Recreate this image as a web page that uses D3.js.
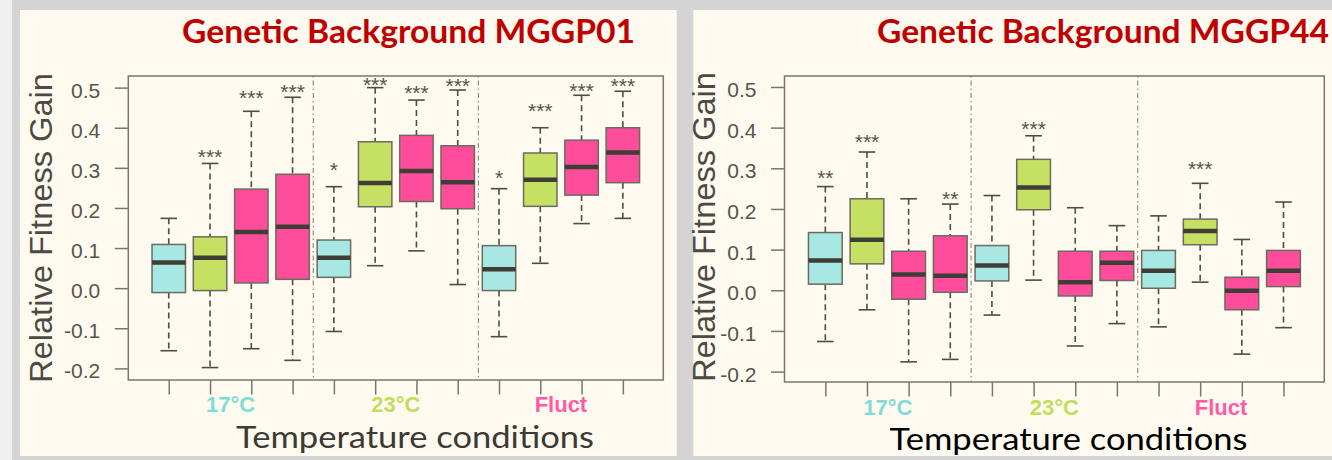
<!DOCTYPE html>
<html>
<head>
<meta charset="utf-8">
<script src="https://cdn.jsdelivr.net/npm/d3@7"></script>
<style>
  body { margin: 0; background: #d4d4d4; }
  svg { display: block; }
</style>
</head>
<body>
<svg id="canvas" width="1332" height="460"></svg>
<script>
// gruppi di temperatura e tipo di ogni box (colore = condizione di evoluzione)
const gruppi = ["17°C", "23°C", "Fluct"];
const tipiBox = ["17°C", "23°C", "Fluct", "Fluct",
                 "17°C", "23°C", "Fluct", "Fluct",
                 "17°C", "23°C", "Fluct", "Fluct"];
const tickY = [-0.2, -0.1, 0.0, 0.1, 0.2, 0.3, 0.4, 0.5];

// MGGP01
const m01Min = [-0.156, -0.198, -0.151, -0.180, -0.108, 0.056, 0.093, 0.009, -0.121, 0.062, 0.161, 0.174];
const m01Q1  = [-0.011, -0.006, 0.013, 0.022, 0.027, 0.203, 0.216, 0.198, -0.006, 0.204, 0.232, 0.263];
const m01Med = [0.064, 0.076, 0.140, 0.153, 0.076, 0.262, 0.292, 0.264, 0.047, 0.270, 0.302, 0.338];
const m01Q3  = [0.109, 0.128, 0.247, 0.284, 0.120, 0.365, 0.381, 0.355, 0.106, 0.337, 0.369, 0.400];
const m01Max = [0.174, 0.311, 0.441, 0.476, 0.253, 0.500, 0.469, 0.494, 0.248, 0.400, 0.481, 0.491];
const m01Sig = ["", "***", "***", "***", "*", "***", "***", "***", "*", "***", "***", "***"];
const m01SigY = [null, 0.340, 0.486, 0.502, 0.307, 0.520, 0.500, 0.517, 0.288, 0.454, 0.505, 0.516];

// MGGP44
const m44Min = [-0.126, -0.048, -0.176, -0.170, -0.061, 0.025, -0.137, -0.082, -0.090, 0.020, -0.157, -0.092];
const m44Q1  = [0.015, 0.065, -0.022, -0.005, 0.023, 0.198, -0.014, 0.024, 0.005, 0.112, -0.048, 0.009];
const m44Med = [0.073, 0.124, 0.039, 0.036, 0.061, 0.253, 0.020, 0.068, 0.048, 0.146, -0.001, 0.048];
const m44Q3  = [0.142, 0.225, 0.096, 0.134, 0.110, 0.322, 0.096, 0.096, 0.098, 0.175, 0.032, 0.098];
const m44Max = [0.255, 0.340, 0.225, 0.212, 0.233, 0.380, 0.203, 0.159, 0.183, 0.263, 0.125, 0.217];
const m44Sig = ["**", "***", "", "**", "", "***", "", "", "", "***", "", ""];
const m44SigY = [0.288, 0.378, null, 0.236, null, 0.409, null, null, null, 0.311, null, null];

const riempimento = { "17°C": "#a8e8e4", "23°C": "#c6e064", "Fluct": "#ff4d9c" };
const coloreGruppo = { "17°C": "#7fdcd6", "23°C": "#c0de5c", "Fluct": "#ff5aa6" };

const svg = d3.select("#canvas");

// cornice grigia
svg.append("rect").attr("x", 0).attr("y", 0).attr("width", 1332).attr("height", 460).attr("fill", "#d4d4d4");
svg.append("rect").attr("x", 0).attr("y", 0).attr("width", 12).attr("height", 460).attr("fill", "#efefef");

function disegnaPannello(p) {
  const g = svg.append("g");

  g.append("rect")
    .attr("x", p.bg[0]).attr("y", p.bg[1]).attr("width", p.bg[2]).attr("height", p.bg[3])
    .attr("fill", "#fffaef");

  const scalaX = d3.scaleLinear().domain([0.02, 12.98]).range([p.left, p.right]);
  const scalaY = d3.scaleLinear().domain(p.dominioY).range([p.bottom, p.top]);

  const dati = p.min.map((d, i) => ({
    pos: i + 1, tipo: tipiBox[i],
    min: p.min[i], q1: p.q1[i], med: p.med[i], q3: p.q3[i], max: p.max[i],
    sig: p.sig[i], sigY: p.sigY[i]
  }));

  // linee divisorie
  g.selectAll("line.div")
    .data([4.5, 8.5])
    .enter().append("line")
    .attr("x1", d => scalaX(d)).attr("x2", d => scalaX(d))
    .attr("y1", p.top).attr("y2", p.bottom)
    .attr("stroke", "#85857c").attr("stroke-width", 1.1)
    .attr("stroke-dasharray", "1.5,3,5,3");

  const box = g.selectAll("g.box").data(dati).enter().append("g");

  // baffi tratteggiati
  box.append("line")
    .attr("x1", d => scalaX(d.pos)).attr("x2", d => scalaX(d.pos))
    .attr("y1", d => scalaY(d.max)).attr("y2", d => scalaY(d.q3))
    .attr("stroke", "#4d4d46").attr("stroke-width", 1.6).attr("stroke-dasharray", "6,4");
  box.append("line")
    .attr("x1", d => scalaX(d.pos)).attr("x2", d => scalaX(d.pos))
    .attr("y1", d => scalaY(d.q1)).attr("y2", d => scalaY(d.min))
    .attr("stroke", "#4d4d46").attr("stroke-width", 1.6).attr("stroke-dasharray", "6,4");

  // cappucci
  ["min", "max"].forEach(k => {
    box.append("line")
      .attr("x1", d => scalaX(d.pos - 0.2)).attr("x2", d => scalaX(d.pos + 0.2))
      .attr("y1", d => scalaY(d[k])).attr("y2", d => scalaY(d[k]))
      .attr("stroke", "#4d4d46").attr("stroke-width", 1.6);
  });

  box.append("rect")
    .attr("x", d => scalaX(d.pos - 0.405))
    .attr("width", d => scalaX(d.pos + 0.405) - scalaX(d.pos - 0.405))
    .attr("y", d => scalaY(d.q3))
    .attr("height", d => scalaY(d.q1) - scalaY(d.q3))
    .attr("fill", d => riempimento[d.tipo])
    .attr("stroke", "#6b6b5f").attr("stroke-width", 1.5);

  box.append("line")
    .attr("x1", d => scalaX(d.pos - 0.405)).attr("x2", d => scalaX(d.pos + 0.405))
    .attr("y1", d => scalaY(d.med)).attr("y2", d => scalaY(d.med))
    .attr("stroke", "#3e3e36").attr("stroke-width", 4.5);

  // cornice del grafico
  g.append("rect")
    .attr("x", p.left).attr("y", p.top)
    .attr("width", p.right - p.left).attr("height", p.bottom - p.top)
    .attr("fill", "none").attr("stroke", "#77776d").attr("stroke-width", 1.5);

  // asterischi
  box.filter(d => d.sig !== "")
    .append("text")
    .attr("x", d => scalaX(d.pos))
    .attr("y", d => scalaY(d.sigY) + 12)
    .attr("text-anchor", "middle")
    .attr("font-family", "'Liberation Sans', Arial, sans-serif")
    .attr("font-size", 21)
    .attr("fill", "#55554d")
    .text(d => d.sig);

  // assi
  const assey = g.append("g")
    .attr("transform", `translate(${p.left},0)`)
    .call(d3.axisLeft(scalaY).tickValues(tickY).tickSize(13.5).tickPadding(14.5)
      .tickFormat(d => d.toFixed(1)));
  assey.select(".domain").remove();
  assey.selectAll("line").attr("stroke", "#77776d").attr("stroke-width", 1.5);
  assey.selectAll("text")
    .attr("dy", "0.45em")
    .attr("font-family", "'Liberation Sans', Arial, sans-serif")
    .attr("font-size", 21).attr("fill", "#55554d");

  const assex = g.append("g")
    .attr("transform", `translate(0,${p.bottom})`)
    .call(d3.axisBottom(scalaX).tickValues(d3.range(1, 13)).tickSize(14.5).tickFormat(""));
  assex.select(".domain").remove();
  assex.selectAll("line").attr("stroke", "#77776d").attr("stroke-width", 1.5);

  g.selectAll("text.gruppo")
    .data(gruppi)
    .enter().append("text")
    .attr("x", (d, i) => scalaX(2.5 + 4 * i))
    .attr("y", p.yGruppi)
    .attr("text-anchor", "middle")
    .attr("font-family", "'Liberation Sans', Arial, sans-serif")
    .attr("font-weight", "bold")
    .attr("font-size", 22)
    .attr("fill", d => coloreGruppo[d])
    .text(d => d);

  g.append("text")
    .attr("x", p.xLab[0]).attr("y", p.xLab[1])
    .attr("font-family", "Lato, 'Open Sans', sans-serif")
    .attr("font-size", 30)
    .attr("textLength", 358).attr("lengthAdjust", "spacingAndGlyphs")
    .attr("fill", p.coloreXLab)
    .text("Temperature conditions");

  g.append("text")
    .attr("transform", `translate(${p.yLab[0]},${p.yLab[1]}) rotate(-90)`)
    .attr("text-anchor", "middle")
    .attr("font-family", "'Liberation Sans', Arial, sans-serif")
    .attr("font-size", 32)
    .attr("textLength", 310).attr("lengthAdjust", "spacingAndGlyphs")
    .attr("fill", "#4b4b42")
    .text("Relative Fitness Gain");

  g.append("text")
    .attr("x", p.titolo[0]).attr("y", p.titolo[1])
    .attr("font-family", "Lato, 'Open Sans', sans-serif")
    .attr("font-weight", "bold")
    .attr("font-size", 32)
    .attr("textLength", p.titolo[2]).attr("lengthAdjust", "spacingAndGlyphs")
    .attr("fill", "#c00000")
    .text(p.testoTitolo);
}

disegnaPannello({
  bg: [20, 10, 656.7, 446],
  left: 128.3, right: 663.3, top: 76, bottom: 380,
  dominioY: [-0.229, 0.529],
  min: m01Min, q1: m01Q1, med: m01Med, q3: m01Q3, max: m01Max, sig: m01Sig, sigY: m01SigY,
  yGruppi: 411.7, xLab: [236, 448.3], coloreXLab: "#3b3b33", yLab: [51.7, 228],
  titolo: [182, 43, 453], testoTitolo: "Genetic Background MGGP01"
});

disegnaPannello({
  bg: [693.3, 10, 638.7, 446],
  left: 784.5, right: 1324.3, top: 76, bottom: 382,
  dominioY: [-0.2256, 0.527],
  min: m44Min, q1: m44Q1, med: m44Med, q3: m44Q3, max: m44Max, sig: m44Sig, sigY: m44SigY,
  yGruppi: 415, xLab: [889.5, 450], coloreXLab: "#000000", yLab: [715, 227],
  titolo: [877, 43, 452], testoTitolo: "Genetic Background MGGP44"
});
</script>
</body>
</html>
